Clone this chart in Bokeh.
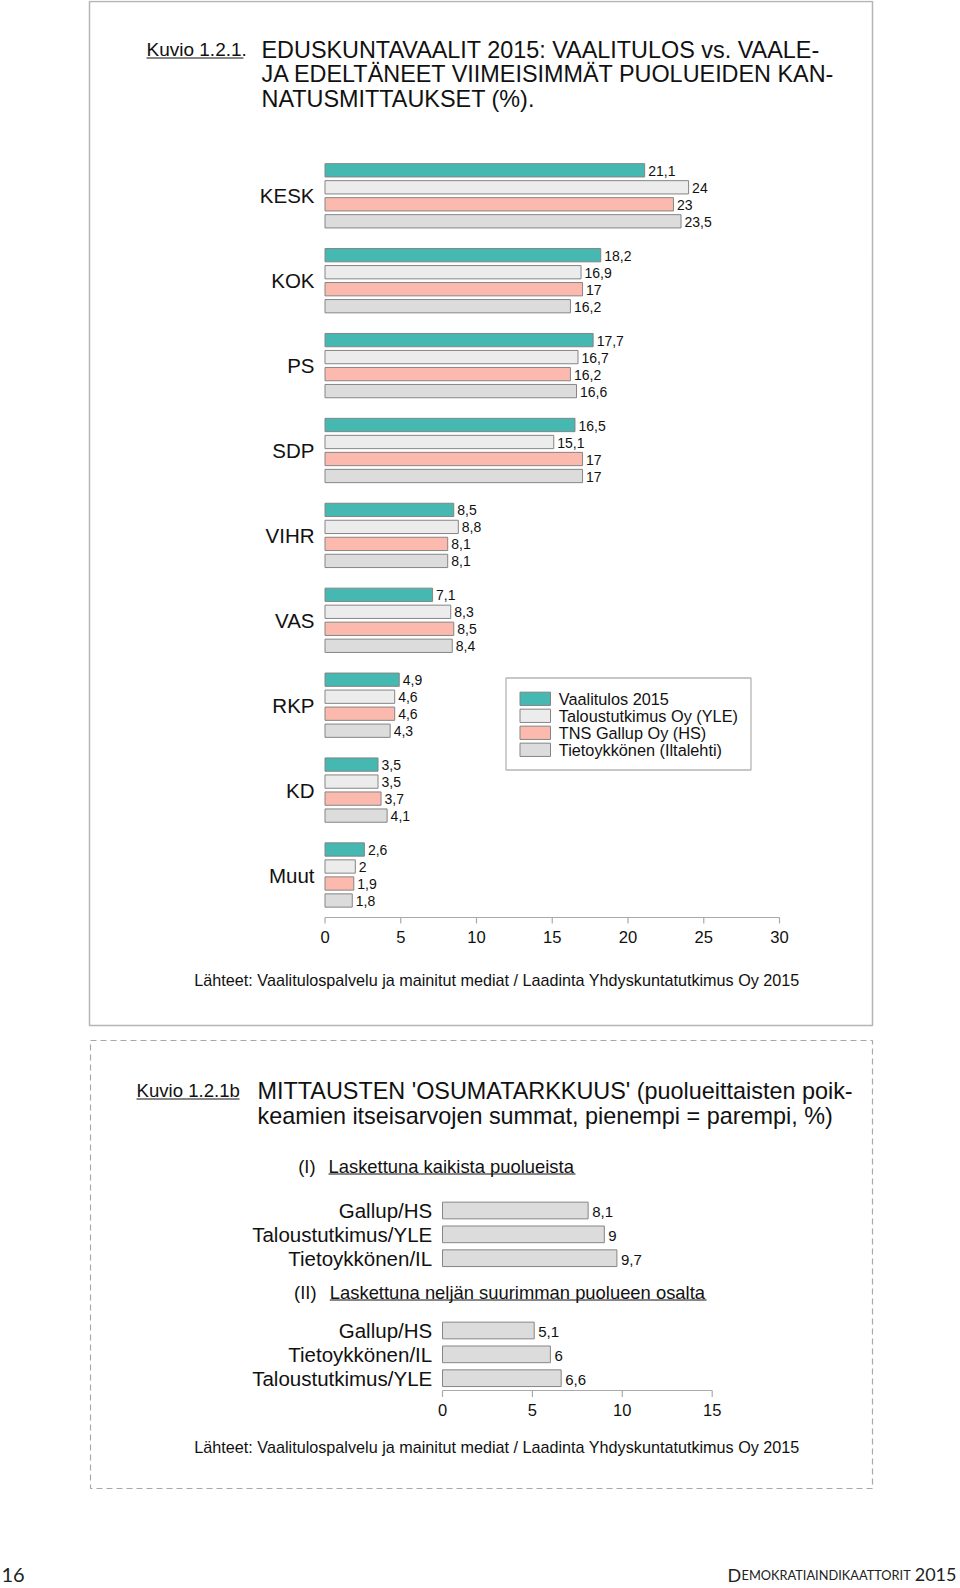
from bokeh.plotting import figure
from bokeh.models import Range1d
from bokeh.core.properties import value
from bokeh.embed import file_html
from bokeh.resources import INLINE

# ---------------- data ----------------
parties = ["KESK", "KOK", "PS", "SDP", "VIHR", "VAS", "RKP", "KD", "Muut"]
series_names = ["Vaalitulos 2015", "Taloustutkimus Oy (YLE)",
                "TNS Gallup Oy (HS)", "Tietoykkönen (Iltalehti)"]
vaalitulos = [21.1, 18.2, 17.7, 16.5, 8.5, 7.1, 4.9, 3.5, 2.6]
taloustutkimus = [24, 16.9, 16.7, 15.1, 8.8, 8.3, 4.6, 3.5, 2.0]
gallup = [23, 17, 16.2, 17, 8.1, 8.5, 4.6, 3.7, 1.9]
tietoykkonen = [23.5, 16.2, 16.6, 17, 8.1, 8.4, 4.3, 4.1, 1.8]
top_ticks = [0, 5, 10, 15, 20, 25, 30]

acc_all_labels = ["Gallup/HS", "Taloustutkimus/YLE", "Tietoykkönen/IL"]
acc_all_values = [8.1, 9, 9.7]
acc_big4_labels = ["Gallup/HS", "Tietoykkönen/IL", "Taloustutkimus/YLE"]
acc_big4_values = [5.1, 6, 6.6]
bottom_ticks = [0, 5, 10, 15]

source_text = "Lähteet: Vaalitulospalvelu ja mainitut mediat / Laadinta Yhdyskuntatutkimus Oy 2015"

# ---------------- styles ----------------
SANS = "Liberation Sans"
FOOT = "Lato"
series_fill = ["#45b8b1", "#ececec", "#fbbaad", "#dcdcdc"]
bar_line = "#858585"
axis_col = "#aaaaaa"


def fmt(v):
    return f"{v:g}".replace(".", ",")


W, H = 960, 1588
X0, Y0 = 0, 0

p = figure(width=W, height=H, x_range=Range1d(X0, X0 + W), y_range=Range1d(Y0 + H, Y0),
           output_backend="svg", toolbar_location=None, min_border=0,
           x_axis_location=None, y_axis_location=None, title=None,
           outline_line_color=None, background_fill_color="white",
           border_fill_color="white")
p.xgrid.visible = False
p.ygrid.visible = False

TOP_X0, TOP_K = 324.5, 15.15
BOT_X0, BOT_K = 442.0, 17.98
p.extra_x_ranges = {
    "top": Range1d((X0 - TOP_X0) / TOP_K, (X0 + W - TOP_X0) / TOP_K),
    "bot": Range1d((X0 - BOT_X0) / BOT_K, (X0 + W - BOT_X0) / BOT_K),
}


def txt(x, y, s, size, align="left", font=SANS, color="#111111", rng="default",
        xo=0, yo=0, baseline="middle"):
    if not isinstance(x, (list, tuple)):
        x, y, s = [x], [y], [s]
    p.text(x=list(x), y=list(y), text=list(s), text_font=value(font),
           text_font_size=f"{size}px", text_align=align, text_baseline=baseline,
           text_color=color, x_range_name=rng, x_offset=xo, y_offset=yo)


def uline(x0, x1, y, w=1.2):
    p.segment(x0=[x0], x1=[x1], y0=[y], y1=[y], line_color="#111111", line_width=w)


# ---------------- panel frames ----------------
p.quad(left=[89], right=[872], top=[1], bottom=[1025], fill_color=None,
       line_color="#b5b5b5", line_width=1.5)
p.quad(left=[90], right=[872], top=[1040], bottom=[1488], fill_color=None,
       line_color="#a8a8a8", line_width=1.2, line_dash="6 4")

# ---------------- top titles ----------------
TITLE_SIZE = 23.4
txt(146, 49, "Kuvio 1.2.1.", 19)
uline(146, 243, 57.5)
title1 = ["EDUSKUNTAVAALIT 2015: VAALITULOS vs. VAALE-",
          "JA EDELTÄNEET VIIMEISIMMÄT PUOLUEIDEN KAN-",
          "NATUSMITTAUKSET (%)."]
txt([261] * 3, [49, 73.5, 98], title1, TITLE_SIZE)

# ---------------- top chart ----------------
GC0, GSTEP, BSTEP, BH = 195.3, 84.9, 17.0, 13.3
centers = [GC0 + i * GSTEP for i in range(len(parties))]
all_series = [vaalitulos, taloustutkimus, gallup, tietoykkonen]
for j, vals in enumerate(all_series):
    ys = [c + (j - 1.5) * BSTEP for c in centers]
    p.hbar(y=ys, left=0, right=vals, height=BH, fill_color=series_fill[j],
           line_color=bar_line, line_width=1, x_range_name="top")
    txt(vals, ys, [fmt(v) for v in vals], 14, rng="top", xo=3.5, yo=0.5)

txt([314] * len(parties), centers, parties, 20.5, align="right")

# axis (drawn on the "top" scale)
AX_Y = 917
p.segment(x0=[top_ticks[0]], x1=[top_ticks[-1]], y0=[AX_Y], y1=[AX_Y],
          line_color=axis_col, line_width=1.2, x_range_name="top")
p.segment(x0=top_ticks, x1=top_ticks, y0=[AX_Y] * len(top_ticks),
          y1=[AX_Y + 6] * len(top_ticks), line_color=axis_col, line_width=1.2,
          x_range_name="top")
txt(top_ticks, [936] * len(top_ticks), [fmt(t) for t in top_ticks], 16.6,
    align="center", rng="top")

# legend
LG_Y0 = 698.3
p.quad(left=[505.5], right=[750.5], top=[677.5], bottom=[769.5], fill_color="white",
       line_color="#b5b5b5", line_width=1.3)
lys = [LG_Y0 + k * BSTEP for k in range(len(series_names))]
p.quad(left=[519.5] * 4, right=[550] * 4, top=[y - BH / 2 for y in lys],
       bottom=[y + BH / 2 for y in lys], fill_color=series_fill, line_color=bar_line,
       line_width=1)
txt([558.3] * 4, lys, series_names, 16.3)

txt(496.5, 979, source_text, 16.2, align="center")

# ---------------- bottom titles ----------------
txt(136, 1090, "Kuvio 1.2.1b", 18.6)
uline(136, 239, 1098.5)
title2 = ["MITTAUSTEN 'OSUMATARKKUUS' (puolueittaisten poik-",
          "keamien itseisarvojen summat, pienempi = parempi, %)"]
txt([257] * 2, [1090, 1115], title2, TITLE_SIZE)

txt(315, 1166, "(I)", 18.4, align="right")
txt(328, 1166, "Laskettuna kaikista puolueista", 18.4)
uline(328, 575, 1173.5, 1.1)
txt(316, 1292, "(II)", 18.4, align="right")
txt(329.3, 1292, "Laskettuna neljän suurimman puolueen osalta", 18.4)
uline(329.3, 706, 1299.5, 1.1)

# ---------------- bottom chart ----------------
RSTEP, RH = 23.85, 16.7
ys1 = [1210 + k * RSTEP for k in range(len(acc_all_values))]
ys2 = [1330 + k * RSTEP for k in range(len(acc_big4_values))]
for ys, labs, vals in [(ys1, acc_all_labels, acc_all_values),
                       (ys2, acc_big4_labels, acc_big4_values)]:
    p.hbar(y=ys, left=0, right=vals, height=RH, fill_color="#dcdcdc",
           line_color=bar_line, line_width=1, x_range_name="bot")
    txt(vals, ys, [fmt(v) for v in vals], 15, rng="bot", xo=4, yo=1.5)
    txt([431.7] * len(labs), ys, labs, 20.5, align="right")

BAX_Y = 1390
p.segment(x0=[bottom_ticks[0]], x1=[bottom_ticks[-1]], y0=[BAX_Y], y1=[BAX_Y],
          line_color=axis_col, line_width=1.2, x_range_name="bot")
p.segment(x0=bottom_ticks, x1=bottom_ticks, y0=[BAX_Y] * len(bottom_ticks),
          y1=[BAX_Y + 6.5] * len(bottom_ticks), line_color=axis_col, line_width=1.2,
          x_range_name="bot")
txt(bottom_ticks, [1409.5] * len(bottom_ticks), [fmt(t) for t in bottom_ticks], 16.5,
    align="center", rng="bot")

txt(496.5, 1446, source_text, 16.2, align="center")

# ---------------- page footer ----------------
FOOT_Y = 1574
txt(1, FOOT_Y, "16", 20, font=FOOT, color="#222222")
txt(727, FOOT_Y, "D", 18, font=FOOT, color="#222222")
txt(741, FOOT_Y, "EMOKRATIAINDIKAATTORIT", 12.8, font=FOOT, color="#222222", yo=0.8)
txt(956, FOOT_Y, "2015", 18, font=FOOT, color="#222222", align="right")

open("out.html", "w").write(file_html(p, INLINE))
